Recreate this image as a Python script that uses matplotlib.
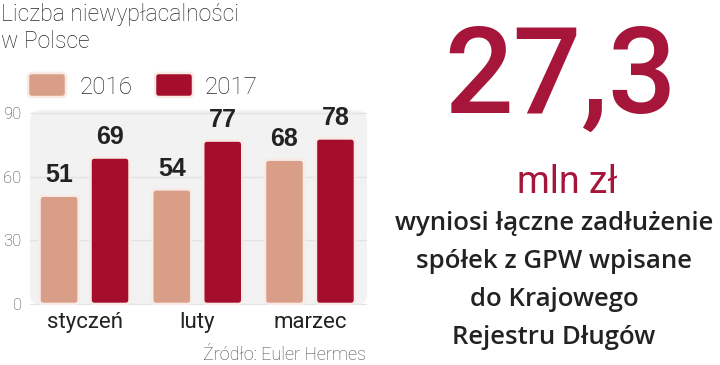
import matplotlib
matplotlib.use('Agg')
import matplotlib.pyplot as plt
from matplotlib.patches import FancyBboxPatch
import numpy as np

categories = ['styczeń', 'luty', 'marzec']
values_2016 = [51, 54, 68]
values_2017 = [69, 77, 78]
series_labels = ['2016', '2017']
yticks = [0, 30, 60, 90]
title = 'Liczba niewypłacalności\nw Polsce'
source = 'Źródło: Euler Hermes'
big_number = '27,3'
unit = 'mln zł'
caption_lines = ['wyniosi łączne zadłużenie', 'spółek z GPW wpisane',
                 'do Krajowego', 'Rejestru Długów']

C16 = '#D89E88'
C17 = '#A50D2C'
RED = '#A6163A'
EDGE = '#f8ebe6'

W, H = 720, 365
fig = plt.figure(figsize=(7.2, 3.65), dpi=100)
fig.patch.set_facecolor('white')

def fx(x):
    return x / W

def fy(y):
    return 1 - y / H

# axes
axw, axh = 337, 195
ax = fig.add_axes([fx(30), fy(305), axw / W, axh / H])
xlim = (-0.484, 2.506)
ylim = (-0.5, 91.4)
ax.set_xlim(*xlim)
ax.set_ylim(*ylim)
ax.patch.set_visible(False)
for s in ax.spines.values():
    s.set_visible(False)

bg = FancyBboxPatch((0, 0), 1, 1, boxstyle='round,pad=0,rounding_size=0.035',
                    transform=ax.transAxes, fc='#f2f2f2', ec='none', zorder=0,
                    mutation_aspect=axw / axh, clip_on=False)
ax.add_patch(bg)

ax.set_yticks(yticks)
ax.yaxis.grid(True, color='#e2e2e2', lw=0.9, zorder=0.5)
ax.set_axisbelow(True)
ax.tick_params(axis='y', length=0, pad=6, labelsize=12, labelcolor='#444444')
for lab in ax.get_yticklabels():
    lab.set_fontfamily(['Roboto', 'DejaVu Sans'])
    lab.set_fontweight('light')

x = np.arange(len(categories))
ax.set_xticks(x)
ax.set_xticklabels(categories, fontsize=16, color='#222222',
                   fontfamily=['Roboto', 'DejaVu Sans'])
ax.tick_params(axis='x', length=0, pad=5)

bw = 0.346
off = 0.226
px_x = axw / (xlim[1] - xlim[0])
px_y = axh / (ylim[1] - ylim[0])
aspect = px_x / px_y

for vals, col, dx in ((values_2016, C16, -off), (values_2017, C17, off)):
    bars = ax.bar(x + dx, vals, width=bw, color=col)
    for rect, v in zip(bars, vals):
        rect.set_visible(False)
        bx, by = rect.get_x(), rect.get_y()
        w, h = rect.get_width(), rect.get_height()
        p = FancyBboxPatch((bx, by), w, h,
                           boxstyle='round,pad=0,rounding_size=%f' % (4 / px_x),
                           mutation_aspect=aspect, fc=col, ec=EDGE, lw=1.8,
                           zorder=3)
        ax.add_patch(p)
        ax.annotate(str(v), (bx + w / 2, v), xytext=(0, 6),
                    textcoords='offset points', ha='center', va='bottom',
                    fontsize=18, fontweight='bold', color='#222222',
                    fontfamily=['Liberation Sans Narrow', 'Liberation Sans', 'DejaVu Sans'],
                    zorder=4)

# title
fig.text(fx(1), fy(3), title, ha='left', va='top', fontsize=16.5,
         fontweight='light', color='#2a2a2a', linespacing=1.2,
         fontfamily=['Roboto', 'DejaVu Sans'])

# legend
for (sx, tx), lab, col in (((28, 80), series_labels[0], C16),
                           ((155, 205), series_labels[1], C17)):
    sw = FancyBboxPatch((fx(sx), fy(97)), 38 / W, 24 / H,
                        boxstyle='round,pad=0,rounding_size=%f' % (4 / W),
                        mutation_aspect=W / H, transform=fig.transFigure,
                        fc=col, ec=EDGE, lw=1.8)
    fig.patches.append(sw)
    fig.text(fx(tx), fy(85), lab, ha='left', va='center_baseline', fontsize=17.5,
             fontweight='light', color='#2a2a2a',
             fontfamily=['Roboto', 'DejaVu Sans'])

# source
fig.text(fx(366), fy(360), source, ha='right', va='baseline', fontsize=13,
         fontweight='light', color='#444444',
         fontfamily=['Roboto', 'DejaVu Sans'])

# right side
fig.text(fx(561), fy(113), big_number, ha='center', va='baseline', fontsize=87,
         fontweight='medium', color=RED,
         fontfamily=['Roboto', 'DejaVu Sans'])
fig.text(fx(567), fy(193), unit, ha='center', va='baseline', fontsize=27,
         color=RED, fontfamily=['Roboto', 'DejaVu Sans'])
for i, line in enumerate(caption_lines):
    fig.text(fx(554), fy(230 + 38 * i), line, ha='center', va='baseline',
             fontsize=18.5, fontweight='semibold', color='#222222',
             fontfamily=['Open Sans', 'Roboto', 'DejaVu Sans'])

fig.savefig('out.png', dpi=100)
